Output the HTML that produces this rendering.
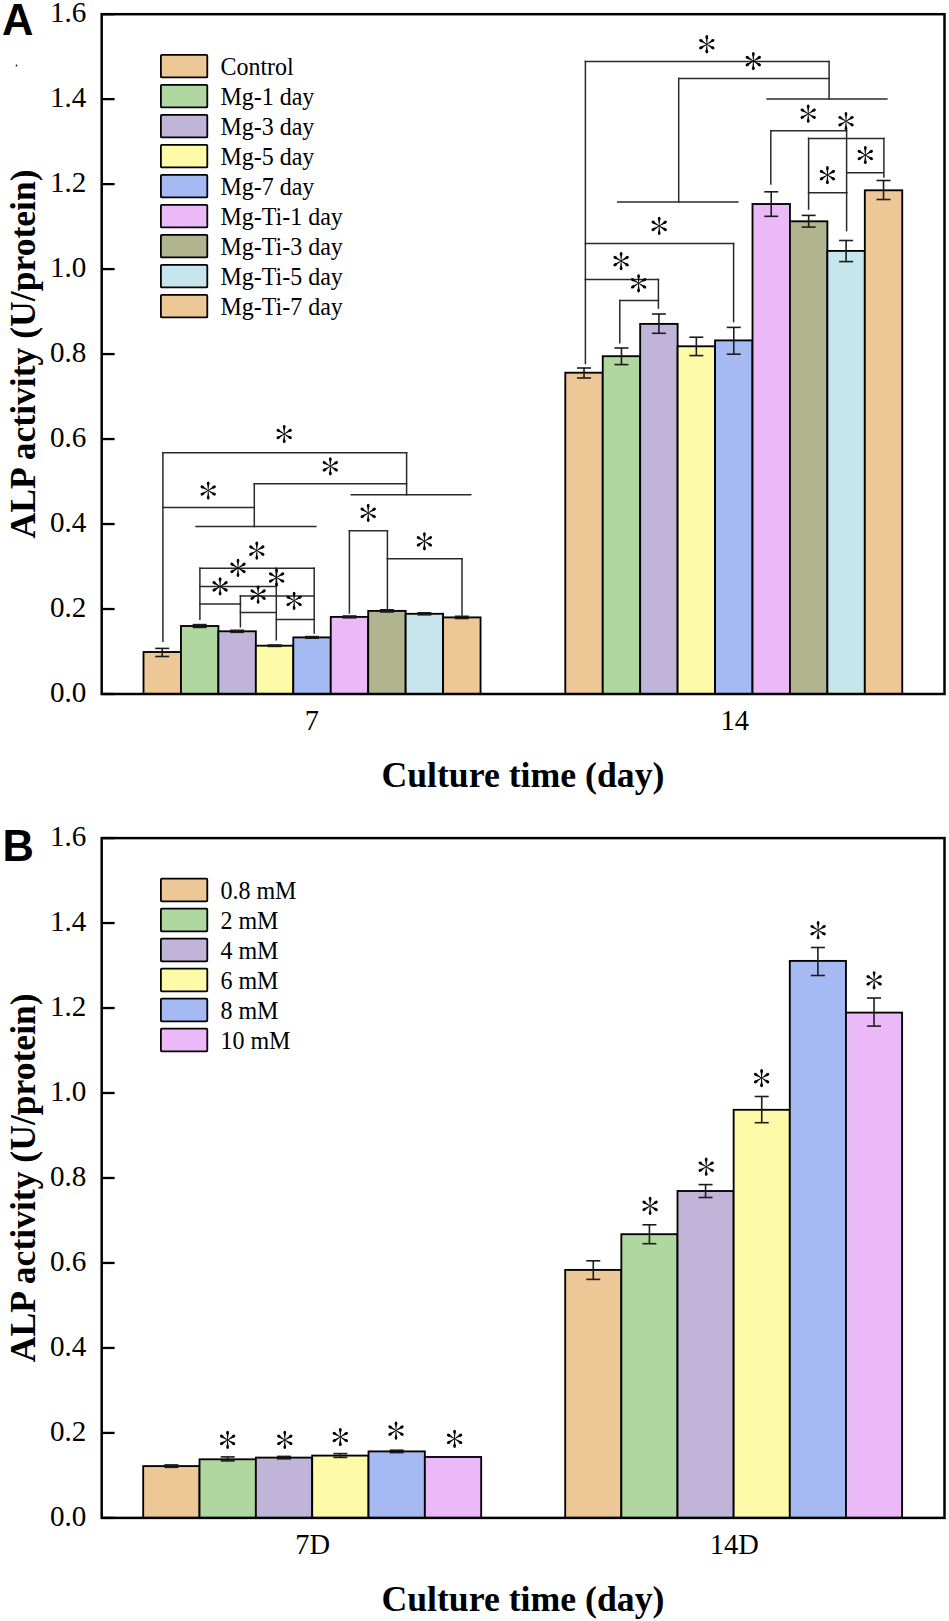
<!DOCTYPE html><html><head><meta charset="utf-8"><style>html,body{margin:0;padding:0;background:#fff;width:949px;height:1621px;overflow:hidden}svg{display:block}</style></head><body>
<svg width="949" height="1621" viewBox="0 0 949 1621" font-family="Liberation Serif">
<defs><g id="av"><path d="M-0.28,0 L-1.0,-7.2 L1.0,-7.2 L0.28,0Z"/><ellipse cy="-7.2" rx="1.38" ry="1.9"/></g><g id="ad"><path d="M-0.28,0 L-1.05,-6.9 L1.05,-6.9 L0.28,0Z"/><ellipse cy="-6.9" rx="1.45" ry="1.9"/></g><g id="st" fill="#000"><use href="#av"/><use href="#av" transform="rotate(180)"/><use href="#ad" transform="rotate(58.5)"/><use href="#ad" transform="rotate(121.5)"/><use href="#ad" transform="rotate(238.5)"/><use href="#ad" transform="rotate(301.5)"/></g></defs>
<rect width="949" height="1621" fill="#fff"/><circle cx="16.5" cy="65.5" r="0.9" fill="#111"/>
<g>
<text x="1.9" y="34.8" font-family="Liberation Sans" font-weight="bold" font-size="43.5">A</text>
<line x1="101.7" y1="694.00" x2="114.6" y2="694.00" stroke="#000" stroke-width="2.3"/>
<text x="86.3" y="702.1" text-anchor="end" font-size="30" textLength="36.4" lengthAdjust="spacingAndGlyphs">0.0</text>
<line x1="101.7" y1="609.02" x2="114.6" y2="609.02" stroke="#000" stroke-width="2.3"/>
<text x="86.3" y="617.1" text-anchor="end" font-size="30" textLength="36.4" lengthAdjust="spacingAndGlyphs">0.2</text>
<line x1="101.7" y1="524.04" x2="114.6" y2="524.04" stroke="#000" stroke-width="2.3"/>
<text x="86.3" y="532.1" text-anchor="end" font-size="30" textLength="36.4" lengthAdjust="spacingAndGlyphs">0.4</text>
<line x1="101.7" y1="439.06" x2="114.6" y2="439.06" stroke="#000" stroke-width="2.3"/>
<text x="86.3" y="447.2" text-anchor="end" font-size="30" textLength="36.4" lengthAdjust="spacingAndGlyphs">0.6</text>
<line x1="101.7" y1="354.08" x2="114.6" y2="354.08" stroke="#000" stroke-width="2.3"/>
<text x="86.3" y="362.2" text-anchor="end" font-size="30" textLength="36.4" lengthAdjust="spacingAndGlyphs">0.8</text>
<line x1="101.7" y1="269.10" x2="114.6" y2="269.10" stroke="#000" stroke-width="2.3"/>
<text x="86.3" y="277.2" text-anchor="end" font-size="30" textLength="36.4" lengthAdjust="spacingAndGlyphs">1.0</text>
<line x1="101.7" y1="184.12" x2="114.6" y2="184.12" stroke="#000" stroke-width="2.3"/>
<text x="86.3" y="192.2" text-anchor="end" font-size="30" textLength="36.4" lengthAdjust="spacingAndGlyphs">1.2</text>
<line x1="101.7" y1="99.14" x2="114.6" y2="99.14" stroke="#000" stroke-width="2.3"/>
<text x="86.3" y="107.2" text-anchor="end" font-size="30" textLength="36.4" lengthAdjust="spacingAndGlyphs">1.4</text>
<line x1="101.7" y1="14.16" x2="114.6" y2="14.16" stroke="#000" stroke-width="2.3"/>
<text x="86.3" y="22.3" text-anchor="end" font-size="30" textLength="36.4" lengthAdjust="spacingAndGlyphs">1.6</text>
<text transform="translate(34.9,353.9) rotate(-90)" text-anchor="middle" font-weight="bold" font-size="36" textLength="369" lengthAdjust="spacingAndGlyphs">ALP activity (U/protein)</text>
<text x="311.8" y="730.2" text-anchor="middle" font-size="28.5">7</text>
<text x="734.7" y="730.2" text-anchor="middle" font-size="28.5">14</text>
<text x="522.9" y="786.6" text-anchor="middle" font-weight="bold" font-size="36" textLength="283" lengthAdjust="spacingAndGlyphs">Culture time (day)</text>
<rect x="160.9" y="54.8" width="46.4" height="22.6" rx="1" fill="#EEC797" stroke="#000" stroke-width="1.8"/>
<text x="220.4" y="74.8" font-size="25.5" textLength="73.34" lengthAdjust="spacingAndGlyphs">Control</text>
<rect x="160.9" y="84.8" width="46.4" height="22.6" rx="1" fill="#B1D7A0" stroke="#000" stroke-width="1.8"/>
<text x="220.4" y="104.8" font-size="25.5" textLength="93.98" lengthAdjust="spacingAndGlyphs">Mg-1 day</text>
<rect x="160.9" y="114.8" width="46.4" height="22.6" rx="1" fill="#C1B4D9" stroke="#000" stroke-width="1.8"/>
<text x="220.4" y="134.8" font-size="25.5" textLength="93.98" lengthAdjust="spacingAndGlyphs">Mg-3 day</text>
<rect x="160.9" y="144.8" width="46.4" height="22.6" rx="1" fill="#FEFBA8" stroke="#000" stroke-width="1.8"/>
<text x="220.4" y="164.8" font-size="25.5" textLength="93.98" lengthAdjust="spacingAndGlyphs">Mg-5 day</text>
<rect x="160.9" y="174.8" width="46.4" height="22.6" rx="1" fill="#A5BAF2" stroke="#000" stroke-width="1.8"/>
<text x="220.4" y="194.8" font-size="25.5" textLength="93.98" lengthAdjust="spacingAndGlyphs">Mg-7 day</text>
<rect x="160.9" y="204.8" width="46.4" height="22.6" rx="1" fill="#ECB9F8" stroke="#000" stroke-width="1.8"/>
<text x="220.4" y="224.8" font-size="25.5" textLength="122.47" lengthAdjust="spacingAndGlyphs">Mg-Ti-1 day</text>
<rect x="160.9" y="234.8" width="46.4" height="22.6" rx="1" fill="#B0B48F" stroke="#000" stroke-width="1.8"/>
<text x="220.4" y="254.8" font-size="25.5" textLength="122.47" lengthAdjust="spacingAndGlyphs">Mg-Ti-3 day</text>
<rect x="160.9" y="264.8" width="46.4" height="22.6" rx="1" fill="#C6E5EC" stroke="#000" stroke-width="1.8"/>
<text x="220.4" y="284.8" font-size="25.5" textLength="122.47" lengthAdjust="spacingAndGlyphs">Mg-Ti-5 day</text>
<rect x="160.9" y="294.8" width="46.4" height="22.6" rx="1" fill="#EEC797" stroke="#000" stroke-width="1.8"/>
<text x="220.4" y="314.8" font-size="25.5" textLength="122.47" lengthAdjust="spacingAndGlyphs">Mg-Ti-7 day</text>
<rect x="143.50" y="652.00" width="37.45" height="42.00" fill="#EEC797" stroke="#000" stroke-width="1.85"/>
<rect x="180.95" y="626.00" width="37.45" height="68.00" fill="#B1D7A0" stroke="#000" stroke-width="1.85"/>
<rect x="218.40" y="631.30" width="37.45" height="62.70" fill="#C1B4D9" stroke="#000" stroke-width="1.85"/>
<rect x="255.85" y="645.70" width="37.45" height="48.30" fill="#FEFBA8" stroke="#000" stroke-width="1.85"/>
<rect x="293.30" y="637.40" width="37.45" height="56.60" fill="#A5BAF2" stroke="#000" stroke-width="1.85"/>
<rect x="330.75" y="616.90" width="37.45" height="77.10" fill="#ECB9F8" stroke="#000" stroke-width="1.85"/>
<rect x="368.20" y="610.90" width="37.45" height="83.10" fill="#B0B48F" stroke="#000" stroke-width="1.85"/>
<rect x="405.65" y="613.80" width="37.45" height="80.20" fill="#C6E5EC" stroke="#000" stroke-width="1.85"/>
<rect x="443.10" y="617.40" width="37.45" height="76.60" fill="#EEC797" stroke="#000" stroke-width="1.85"/>
<g stroke="#1c1c1c" stroke-width="1.6"><line x1="162.22" y1="648.40" x2="162.22" y2="656.50"/><line x1="155.22" y1="648.40" x2="169.22" y2="648.40"/><line x1="155.22" y1="656.50" x2="169.22" y2="656.50"/></g>
<g stroke="#1c1c1c" stroke-width="1.6"><line x1="199.68" y1="624.60" x2="199.68" y2="627.40"/><line x1="192.68" y1="624.60" x2="206.68" y2="624.60"/><line x1="192.68" y1="627.40" x2="206.68" y2="627.40"/></g>
<g stroke="#1c1c1c" stroke-width="1.6"><line x1="237.12" y1="630.30" x2="237.12" y2="632.30"/><line x1="230.12" y1="630.30" x2="244.12" y2="630.30"/><line x1="230.12" y1="632.30" x2="244.12" y2="632.30"/></g>
<g stroke="#1c1c1c" stroke-width="1.6"><line x1="274.58" y1="645.00" x2="274.58" y2="646.40"/><line x1="267.58" y1="645.00" x2="281.58" y2="645.00"/><line x1="267.58" y1="646.40" x2="281.58" y2="646.40"/></g>
<g stroke="#1c1c1c" stroke-width="1.6"><line x1="312.02" y1="636.60" x2="312.02" y2="638.20"/><line x1="305.02" y1="636.60" x2="319.02" y2="636.60"/><line x1="305.02" y1="638.20" x2="319.02" y2="638.20"/></g>
<g stroke="#1c1c1c" stroke-width="1.6"><line x1="349.48" y1="616.00" x2="349.48" y2="617.80"/><line x1="342.48" y1="616.00" x2="356.48" y2="616.00"/><line x1="342.48" y1="617.80" x2="356.48" y2="617.80"/></g>
<g stroke="#1c1c1c" stroke-width="1.6"><line x1="386.93" y1="609.80" x2="386.93" y2="612.00"/><line x1="379.93" y1="609.80" x2="393.93" y2="609.80"/><line x1="379.93" y1="612.00" x2="393.93" y2="612.00"/></g>
<g stroke="#1c1c1c" stroke-width="1.6"><line x1="424.38" y1="612.80" x2="424.38" y2="614.80"/><line x1="417.38" y1="612.80" x2="431.38" y2="612.80"/><line x1="417.38" y1="614.80" x2="431.38" y2="614.80"/></g>
<g stroke="#1c1c1c" stroke-width="1.6"><line x1="461.83" y1="616.30" x2="461.83" y2="618.50"/><line x1="454.83" y1="616.30" x2="468.83" y2="616.30"/><line x1="454.83" y1="618.50" x2="468.83" y2="618.50"/></g>
<rect x="565.30" y="372.70" width="37.44" height="321.30" fill="#EEC797" stroke="#000" stroke-width="1.85"/>
<rect x="602.74" y="356.20" width="37.44" height="337.80" fill="#B1D7A0" stroke="#000" stroke-width="1.85"/>
<rect x="640.18" y="323.90" width="37.44" height="370.10" fill="#C1B4D9" stroke="#000" stroke-width="1.85"/>
<rect x="677.62" y="346.30" width="37.44" height="347.70" fill="#FEFBA8" stroke="#000" stroke-width="1.85"/>
<rect x="715.06" y="340.40" width="37.44" height="353.60" fill="#A5BAF2" stroke="#000" stroke-width="1.85"/>
<rect x="752.50" y="204.00" width="37.44" height="490.00" fill="#ECB9F8" stroke="#000" stroke-width="1.85"/>
<rect x="789.94" y="221.30" width="37.44" height="472.70" fill="#B0B48F" stroke="#000" stroke-width="1.85"/>
<rect x="827.38" y="250.90" width="37.44" height="443.10" fill="#C6E5EC" stroke="#000" stroke-width="1.85"/>
<rect x="864.82" y="190.30" width="37.44" height="503.70" fill="#EEC797" stroke="#000" stroke-width="1.85"/>
<g stroke="#1c1c1c" stroke-width="1.6"><line x1="584.02" y1="368.00" x2="584.02" y2="378.00"/><line x1="577.02" y1="368.00" x2="591.02" y2="368.00"/><line x1="577.02" y1="378.00" x2="591.02" y2="378.00"/></g>
<g stroke="#1c1c1c" stroke-width="1.6"><line x1="621.46" y1="348.00" x2="621.46" y2="364.60"/><line x1="614.46" y1="348.00" x2="628.46" y2="348.00"/><line x1="614.46" y1="364.60" x2="628.46" y2="364.60"/></g>
<g stroke="#1c1c1c" stroke-width="1.6"><line x1="658.90" y1="314.00" x2="658.90" y2="333.30"/><line x1="651.90" y1="314.00" x2="665.90" y2="314.00"/><line x1="651.90" y1="333.30" x2="665.90" y2="333.30"/></g>
<g stroke="#1c1c1c" stroke-width="1.6"><line x1="696.34" y1="337.20" x2="696.34" y2="355.60"/><line x1="689.34" y1="337.20" x2="703.34" y2="337.20"/><line x1="689.34" y1="355.60" x2="703.34" y2="355.60"/></g>
<g stroke="#1c1c1c" stroke-width="1.6"><line x1="733.78" y1="327.40" x2="733.78" y2="354.20"/><line x1="726.78" y1="327.40" x2="740.78" y2="327.40"/><line x1="726.78" y1="354.20" x2="740.78" y2="354.20"/></g>
<g stroke="#1c1c1c" stroke-width="1.6"><line x1="771.22" y1="191.80" x2="771.22" y2="216.30"/><line x1="764.22" y1="191.80" x2="778.22" y2="191.80"/><line x1="764.22" y1="216.30" x2="778.22" y2="216.30"/></g>
<g stroke="#1c1c1c" stroke-width="1.6"><line x1="808.66" y1="215.40" x2="808.66" y2="227.10"/><line x1="801.66" y1="215.40" x2="815.66" y2="215.40"/><line x1="801.66" y1="227.10" x2="815.66" y2="227.10"/></g>
<g stroke="#1c1c1c" stroke-width="1.6"><line x1="846.10" y1="240.50" x2="846.10" y2="261.60"/><line x1="839.10" y1="240.50" x2="853.10" y2="240.50"/><line x1="839.10" y1="261.60" x2="853.10" y2="261.60"/></g>
<g stroke="#1c1c1c" stroke-width="1.6"><line x1="883.54" y1="180.50" x2="883.54" y2="199.50"/><line x1="876.54" y1="180.50" x2="890.54" y2="180.50"/><line x1="876.54" y1="199.50" x2="890.54" y2="199.50"/></g>
<rect x="101.7" y="14.20" width="842.80" height="679.80" fill="none" stroke="#000" stroke-width="2.5"/>
</g>
<g stroke="#2a2a2a" stroke-width="1.5" fill="none" stroke-linecap="square">
<line x1="162.9" y1="452.8" x2="406.6" y2="452.8"/>
<line x1="162.9" y1="452.8" x2="162.9" y2="641.3"/>
<line x1="406.6" y1="452.8" x2="406.6" y2="494.7"/>
<line x1="254.3" y1="483.7" x2="406.6" y2="483.7"/>
<line x1="162.9" y1="507.6" x2="254.3" y2="507.6"/>
<line x1="254.3" y1="483.7" x2="254.3" y2="526.5"/>
<line x1="196.1" y1="526.5" x2="315.8" y2="526.5"/>
<line x1="351.3" y1="494.7" x2="470.7" y2="494.7"/>
<line x1="349.4" y1="530.8" x2="387.4" y2="530.8"/>
<line x1="349.4" y1="530.8" x2="349.4" y2="613.0"/>
<line x1="387.4" y1="530.8" x2="387.4" y2="608.5"/>
<line x1="387.4" y1="558.8" x2="462.0" y2="558.8"/>
<line x1="462.0" y1="558.8" x2="462.0" y2="614.9"/>
<line x1="199.9" y1="568.2" x2="314.2" y2="568.2"/>
<line x1="199.9" y1="568.2" x2="199.9" y2="619.2"/>
<line x1="314.2" y1="568.2" x2="314.2" y2="632.9"/>
<line x1="199.9" y1="586.6" x2="276.3" y2="586.6"/>
<line x1="276.3" y1="568.2" x2="276.3" y2="639.8"/>
<line x1="240.4" y1="596.0" x2="314.2" y2="596.0"/>
<line x1="199.9" y1="603.9" x2="240.4" y2="603.9"/>
<line x1="240.4" y1="596.0" x2="240.4" y2="626.8"/>
<line x1="240.4" y1="612.4" x2="276.3" y2="612.4"/>
<line x1="276.3" y1="619.5" x2="314.2" y2="619.5"/>
<line x1="585.4" y1="61.6" x2="829.1" y2="61.6"/>
<line x1="585.4" y1="61.6" x2="585.4" y2="363.4"/>
<line x1="829.1" y1="61.6" x2="829.1" y2="98.8"/>
<line x1="678.7" y1="78.5" x2="829.1" y2="78.5"/>
<line x1="678.7" y1="78.5" x2="678.7" y2="201.9"/>
<line x1="767.1" y1="98.9" x2="886.9" y2="98.9"/>
<line x1="617.7" y1="201.9" x2="737.8" y2="201.9"/>
<line x1="585.4" y1="243.6" x2="733.6" y2="243.6"/>
<line x1="733.6" y1="243.6" x2="733.6" y2="321.6"/>
<line x1="585.4" y1="279.5" x2="658.4" y2="279.5"/>
<line x1="658.4" y1="279.5" x2="658.4" y2="308.1"/>
<line x1="619.8" y1="300.5" x2="658.4" y2="300.5"/>
<line x1="619.8" y1="300.5" x2="619.8" y2="342.7"/>
<line x1="770.8" y1="130.7" x2="846.6" y2="130.7"/>
<line x1="770.8" y1="130.7" x2="770.8" y2="184.0"/>
<line x1="846.6" y1="130.7" x2="846.6" y2="230.6"/>
<line x1="808.6" y1="138.4" x2="883.9" y2="138.4"/>
<line x1="808.6" y1="138.4" x2="808.6" y2="209.1"/>
<line x1="883.9" y1="138.4" x2="883.9" y2="176.9"/>
<line x1="846.9" y1="172.8" x2="883.3" y2="172.8"/>
<line x1="808.6" y1="192.7" x2="846.9" y2="192.7"/>
</g>
<use href="#st" x="284.2" y="434.0"/>
<use href="#st" x="330.3" y="466.3"/>
<use href="#st" x="208.2" y="490.5"/>
<use href="#st" x="256.8" y="550.6"/>
<use href="#st" x="238.0" y="567.9"/>
<use href="#st" x="220.1" y="586.4"/>
<use href="#st" x="276.6" y="577.5"/>
<use href="#st" x="258.1" y="594.6"/>
<use href="#st" x="294.1" y="600.8"/>
<use href="#st" x="368.2" y="512.9"/>
<use href="#st" x="424.4" y="541.3"/>
<use href="#st" x="706.8" y="44.2"/>
<use href="#st" x="753.3" y="61.1"/>
<use href="#st" x="659.2" y="225.9"/>
<use href="#st" x="621.1" y="261.1"/>
<use href="#st" x="638.6" y="283.3"/>
<use href="#st" x="808.2" y="113.7"/>
<use href="#st" x="846.0" y="121.2"/>
<use href="#st" x="865.3" y="155.0"/>
<use href="#st" x="827.4" y="175.1"/>
<text x="2.5" y="861.2" font-family="Liberation Sans" font-weight="bold" font-size="43.5">B</text>
<line x1="101.7" y1="1517.90" x2="114.6" y2="1517.90" stroke="#000" stroke-width="2.3"/>
<text x="86.3" y="1526.0" text-anchor="end" font-size="30" textLength="36.4" lengthAdjust="spacingAndGlyphs">0.0</text>
<line x1="101.7" y1="1432.92" x2="114.6" y2="1432.92" stroke="#000" stroke-width="2.3"/>
<text x="86.3" y="1441.0" text-anchor="end" font-size="30" textLength="36.4" lengthAdjust="spacingAndGlyphs">0.2</text>
<line x1="101.7" y1="1347.94" x2="114.6" y2="1347.94" stroke="#000" stroke-width="2.3"/>
<text x="86.3" y="1356.0" text-anchor="end" font-size="30" textLength="36.4" lengthAdjust="spacingAndGlyphs">0.4</text>
<line x1="101.7" y1="1262.96" x2="114.6" y2="1262.96" stroke="#000" stroke-width="2.3"/>
<text x="86.3" y="1271.1" text-anchor="end" font-size="30" textLength="36.4" lengthAdjust="spacingAndGlyphs">0.6</text>
<line x1="101.7" y1="1177.98" x2="114.6" y2="1177.98" stroke="#000" stroke-width="2.3"/>
<text x="86.3" y="1186.1" text-anchor="end" font-size="30" textLength="36.4" lengthAdjust="spacingAndGlyphs">0.8</text>
<line x1="101.7" y1="1093.00" x2="114.6" y2="1093.00" stroke="#000" stroke-width="2.3"/>
<text x="86.3" y="1101.1" text-anchor="end" font-size="30" textLength="36.4" lengthAdjust="spacingAndGlyphs">1.0</text>
<line x1="101.7" y1="1008.02" x2="114.6" y2="1008.02" stroke="#000" stroke-width="2.3"/>
<text x="86.3" y="1016.1" text-anchor="end" font-size="30" textLength="36.4" lengthAdjust="spacingAndGlyphs">1.2</text>
<line x1="101.7" y1="923.04" x2="114.6" y2="923.04" stroke="#000" stroke-width="2.3"/>
<text x="86.3" y="931.1" text-anchor="end" font-size="30" textLength="36.4" lengthAdjust="spacingAndGlyphs">1.4</text>
<line x1="101.7" y1="838.06" x2="114.6" y2="838.06" stroke="#000" stroke-width="2.3"/>
<text x="86.3" y="846.2" text-anchor="end" font-size="30" textLength="36.4" lengthAdjust="spacingAndGlyphs">1.6</text>
<text transform="translate(34.9,1177.8) rotate(-90)" text-anchor="middle" font-weight="bold" font-size="36" textLength="369" lengthAdjust="spacingAndGlyphs">ALP activity (U/protein)</text>
<text x="312.7" y="1554.1" text-anchor="middle" font-size="28.5">7D</text>
<text x="734.4" y="1554.1" text-anchor="middle" font-size="28.5">14D</text>
<text x="522.9" y="1610.5" text-anchor="middle" font-weight="bold" font-size="36" textLength="283" lengthAdjust="spacingAndGlyphs">Culture time (day)</text>
<rect x="160.9" y="878.7" width="46.4" height="22.6" rx="1" fill="#EEC797" stroke="#000" stroke-width="1.8"/>
<text x="220.4" y="898.7" font-size="25.5" textLength="76.02" lengthAdjust="spacingAndGlyphs">0.8 mM</text>
<rect x="160.9" y="908.7" width="46.4" height="22.6" rx="1" fill="#B1D7A0" stroke="#000" stroke-width="1.8"/>
<text x="220.4" y="928.7" font-size="25.5" textLength="58.02" lengthAdjust="spacingAndGlyphs">2 mM</text>
<rect x="160.9" y="938.7" width="46.4" height="22.6" rx="1" fill="#C1B4D9" stroke="#000" stroke-width="1.8"/>
<text x="220.4" y="958.7" font-size="25.5" textLength="58.02" lengthAdjust="spacingAndGlyphs">4 mM</text>
<rect x="160.9" y="968.7" width="46.4" height="22.6" rx="1" fill="#FEFBA8" stroke="#000" stroke-width="1.8"/>
<text x="220.4" y="988.7" font-size="25.5" textLength="58.02" lengthAdjust="spacingAndGlyphs">6 mM</text>
<rect x="160.9" y="998.7" width="46.4" height="22.6" rx="1" fill="#A5BAF2" stroke="#000" stroke-width="1.8"/>
<text x="220.4" y="1018.7" font-size="25.5" textLength="58.02" lengthAdjust="spacingAndGlyphs">8 mM</text>
<rect x="160.9" y="1028.7" width="46.4" height="22.6" rx="1" fill="#ECB9F8" stroke="#000" stroke-width="1.8"/>
<text x="220.4" y="1048.7" font-size="25.5" textLength="70.02" lengthAdjust="spacingAndGlyphs">10 mM</text>
<rect x="143.20" y="1466.10" width="56.33" height="51.80" fill="#EEC797" stroke="#000" stroke-width="1.85"/>
<rect x="199.53" y="1459.30" width="56.33" height="58.60" fill="#B1D7A0" stroke="#000" stroke-width="1.85"/>
<rect x="255.86" y="1457.60" width="56.33" height="60.30" fill="#C1B4D9" stroke="#000" stroke-width="1.85"/>
<rect x="312.19" y="1455.60" width="56.33" height="62.30" fill="#FEFBA8" stroke="#000" stroke-width="1.85"/>
<rect x="368.52" y="1451.40" width="56.33" height="66.50" fill="#A5BAF2" stroke="#000" stroke-width="1.85"/>
<rect x="424.85" y="1457.00" width="56.33" height="60.90" fill="#ECB9F8" stroke="#000" stroke-width="1.85"/>
<g stroke="#1c1c1c" stroke-width="1.6"><line x1="171.36" y1="1464.90" x2="171.36" y2="1467.30"/><line x1="164.36" y1="1464.90" x2="178.36" y2="1464.90"/><line x1="164.36" y1="1467.30" x2="178.36" y2="1467.30"/></g>
<g stroke="#1c1c1c" stroke-width="1.6"><line x1="227.69" y1="1456.90" x2="227.69" y2="1460.90"/><line x1="220.69" y1="1456.90" x2="234.69" y2="1456.90"/><line x1="220.69" y1="1460.90" x2="234.69" y2="1460.90"/></g>
<g stroke="#1c1c1c" stroke-width="1.6"><line x1="284.02" y1="1456.40" x2="284.02" y2="1458.80"/><line x1="277.02" y1="1456.40" x2="291.02" y2="1456.40"/><line x1="277.02" y1="1458.80" x2="291.02" y2="1458.80"/></g>
<g stroke="#1c1c1c" stroke-width="1.6"><line x1="340.36" y1="1453.60" x2="340.36" y2="1457.40"/><line x1="333.36" y1="1453.60" x2="347.36" y2="1453.60"/><line x1="333.36" y1="1457.40" x2="347.36" y2="1457.40"/></g>
<g stroke="#1c1c1c" stroke-width="1.6"><line x1="396.68" y1="1450.20" x2="396.68" y2="1452.60"/><line x1="389.68" y1="1450.20" x2="403.68" y2="1450.20"/><line x1="389.68" y1="1452.60" x2="403.68" y2="1452.60"/></g>
<rect x="565.20" y="1269.90" width="56.15" height="248.00" fill="#EEC797" stroke="#000" stroke-width="1.85"/>
<rect x="621.35" y="1234.20" width="56.15" height="283.70" fill="#B1D7A0" stroke="#000" stroke-width="1.85"/>
<rect x="677.50" y="1191.00" width="56.15" height="326.90" fill="#C1B4D9" stroke="#000" stroke-width="1.85"/>
<rect x="733.65" y="1109.80" width="56.15" height="408.10" fill="#FEFBA8" stroke="#000" stroke-width="1.85"/>
<rect x="789.80" y="960.90" width="56.15" height="557.00" fill="#A5BAF2" stroke="#000" stroke-width="1.85"/>
<rect x="845.95" y="1012.60" width="56.15" height="505.30" fill="#ECB9F8" stroke="#000" stroke-width="1.85"/>
<g stroke="#1c1c1c" stroke-width="1.6"><line x1="593.28" y1="1260.80" x2="593.28" y2="1279.40"/><line x1="586.28" y1="1260.80" x2="600.28" y2="1260.80"/><line x1="586.28" y1="1279.40" x2="600.28" y2="1279.40"/></g>
<g stroke="#1c1c1c" stroke-width="1.6"><line x1="649.43" y1="1224.80" x2="649.43" y2="1243.70"/><line x1="642.43" y1="1224.80" x2="656.43" y2="1224.80"/><line x1="642.43" y1="1243.70" x2="656.43" y2="1243.70"/></g>
<g stroke="#1c1c1c" stroke-width="1.6"><line x1="705.58" y1="1184.60" x2="705.58" y2="1197.50"/><line x1="698.58" y1="1184.60" x2="712.58" y2="1184.60"/><line x1="698.58" y1="1197.50" x2="712.58" y2="1197.50"/></g>
<g stroke="#1c1c1c" stroke-width="1.6"><line x1="761.73" y1="1096.50" x2="761.73" y2="1122.70"/><line x1="754.73" y1="1096.50" x2="768.73" y2="1096.50"/><line x1="754.73" y1="1122.70" x2="768.73" y2="1122.70"/></g>
<g stroke="#1c1c1c" stroke-width="1.6"><line x1="817.88" y1="947.50" x2="817.88" y2="975.50"/><line x1="810.88" y1="947.50" x2="824.88" y2="947.50"/><line x1="810.88" y1="975.50" x2="824.88" y2="975.50"/></g>
<g stroke="#1c1c1c" stroke-width="1.6"><line x1="874.03" y1="998.00" x2="874.03" y2="1026.10"/><line x1="867.03" y1="998.00" x2="881.03" y2="998.00"/><line x1="867.03" y1="1026.10" x2="881.03" y2="1026.10"/></g>
<rect x="101.7" y="838.10" width="842.80" height="679.80" fill="none" stroke="#000" stroke-width="2.5"/>
<use href="#st" x="227.6" y="1439.9"/>
<use href="#st" x="284.8" y="1439.9"/>
<use href="#st" x="340.3" y="1437.0"/>
<use href="#st" x="396.0" y="1430.6"/>
<use href="#st" x="454.6" y="1438.8"/>
<use href="#st" x="650.1" y="1205.9"/>
<use href="#st" x="706.2" y="1166.7"/>
<use href="#st" x="761.6" y="1078.1"/>
<use href="#st" x="818.1" y="930.2"/>
<use href="#st" x="874.1" y="980.3"/>
</svg></body></html>
